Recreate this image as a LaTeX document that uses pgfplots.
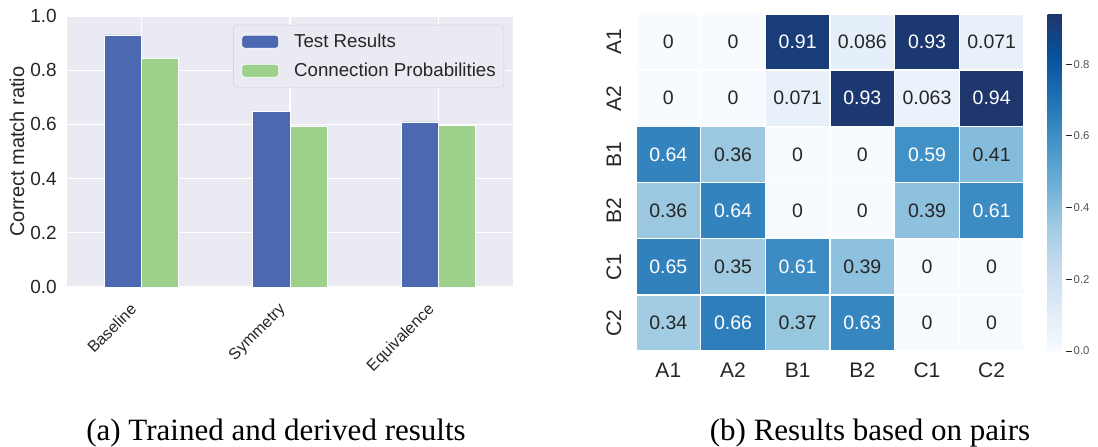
\documentclass[border=0pt]{standalone}
\usepackage{fontspec}
\setmainfont{Liberation Serif}
\setsansfont{Liberation Sans}
\usepackage{pgfplots}
\pgfplotsset{compat=1.18}
\definecolor{bg}{RGB}{234,234,242}
\definecolor{barblue}{RGB}{76,104,176}
\definecolor{bargreen}{RGB}{157,208,138}
\definecolor{txt}{RGB}{38,38,38}
\definecolor{lgray}{RGB}{204,204,210}
\newcommand\fs[1]{\fontsize{#1}{#1}\selectfont}
\begin{document}
\begin{tikzpicture}[x=1pt,y=1pt]
\useasboundingbox (0,0) rectangle (1098,447);
\begin{axis}[
  at={(67pt,160pt)}, anchor=south west,
  scale only axis, width=446pt, height=271pt,
  xmin=-0.5, xmax=2.5, ymin=0, ymax=1,
  ybar, bar width=0.25,
  xtick={0,1,2}, xticklabels={Baseline,Symmetry,Equivalence},
  ytick={0,0.2,0.4,0.6,0.8,1.0}, yticklabels={0.0,0.2,0.4,0.6,0.8,1.0},
  grid=major, grid style={white, line width=1.3pt},
  axis background/.style={fill=bg},
  axis line style={draw=none},
  major tick length=0pt, tick style={draw=none},
  yticklabel style={font=\sffamily\fs{19}, text=txt, inner sep=0pt, anchor=east, xshift=-10pt},
  xticklabel style={font=\sffamily\fs{16}, text=txt, inner sep=0pt, xshift=-12pt, yshift=-15pt, rotate=45, anchor=north east},
  ylabel={Correct match ratio},
  every axis y label/.style={at={(axis description cs:-0.112,0.5)}, rotate=90, anchor=center, font=\sffamily\fs{20}, text=txt},
  legend style={at={(1,1)}, anchor=north east, xshift=-9pt, yshift=-9pt, draw=lgray, fill=bg, rounded corners=3pt, inner xsep=8pt, inner ysep=9pt, font=\sffamily\fs{18.7}, text=txt, row sep=14pt, nodes={inner sep=0pt}},
  legend cell align=left,
]
\addplot[fill=barblue, draw=white, line width=0.8pt, bar shift=-0.125,
  legend image code/.code={\draw[fill=barblue, draw=white, line width=0.8pt] (0pt,-6.5pt) rectangle (37pt,6.5pt); \path (52pt,0pt);}]
  coordinates {(0,0.930) (1,0.647) (2,0.609)};
\addplot[fill=bargreen, draw=white, line width=0.8pt, bar shift=0.125,
  legend image code/.code={\draw[fill=bargreen, draw=white, line width=0.8pt] (0pt,-6.5pt) rectangle (37pt,6.5pt); \path (52pt,0pt);}]
  coordinates {(0,0.844) (1,0.594) (2,0.595)};
\legend{Test Results, Connection Probabilities}
\end{axis}

\begin{axis}[
  at={(636pt,96pt)}, anchor=south west,
  scale only axis, width=388pt, height=337pt,
  xmin=-0.5, xmax=5.5, ymin=-0.5, ymax=5.5,
  axis line style={draw=none}, tick style={draw=none}, major tick length=0pt,
  xtick={0,1,2,3,4,5}, xticklabels={A1,A2,B1,B2,C1,C2},
  ytick={0,1,2,3,4,5}, yticklabels={C2,C1,B2,B1,A2,A1},
  minor xtick={-0.5,0.5,1.5,2.5,3.5,4.5,5.5}, minor ytick={-0.5,0.5,1.5,2.5,3.5,4.5,5.5},
  minor grid style={white, line width=1.5pt}, grid=minor, axis on top,
  xticklabel style={font=\sffamily\fs{21}, text=txt, inner sep=0pt, anchor=base, yshift=-27pt},
  yticklabel style={font=\sffamily\fs{21}, text=txt, inner sep=0pt, xshift=-15pt, rotate=90, anchor=base},
  colormap={blues}{rgb255(0cm)=(247,251,255); rgb255(1cm)=(222,235,247); rgb255(2cm)=(198,219,239); rgb255(3cm)=(158,202,225); rgb255(4cm)=(107,174,214); rgb255(5cm)=(66,146,198); rgb255(6cm)=(33,113,181); rgb255(7cm)=(8,81,156); rgb255(8cm)=(30,54,108)},
  point meta min=0, point meta max=0.94,
  colorbar,
  colorbar style={
    at={(parent axis.north east)}, anchor=north west, xshift=15pt,
    width=18pt,
    ytick={0,0.2,0.4,0.6,0.8}, yticklabels={0.0,0.2,0.4,0.6,0.8},
    yticklabel style={font=\sffamily\fs{11.3}, text=txt!80, inner sep=0pt, anchor=west, xshift=2pt},
    major tick length=6pt, tick align=outside, ytick pos=right,
    tick style={draw=txt, line width=0.8pt},
    axis line style={draw=none},
    grid=none,
  },
]
\addplot[matrix plot*, mesh/cols=6, point meta=explicit, draw=none] table[meta=v]{
x y v
0 0 0.34
1 0 0.66
2 0 0.37
3 0 0.63
4 0 0
5 0 0
0 1 0.65
1 1 0.35
2 1 0.61
3 1 0.39
4 1 0
5 1 0
0 2 0.36
1 2 0.64
2 2 0
3 2 0
4 2 0.39
5 2 0.61
0 3 0.64
1 3 0.36
2 3 0
3 3 0
4 3 0.59
5 3 0.41
0 4 0
1 4 0
2 4 0.071
3 4 0.93
4 4 0.063
5 4 0.94
0 5 0
1 5 0
2 5 0.91
3 5 0.086
4 5 0.93
5 5 0.071
};
\addplot[only marks, mark size=0pt, mark options={draw=none, fill=none}, point meta=explicit symbolic,
  nodes near coords, nodes near coords align=center,
  every node near coord/.append style={font=\sffamily\fs{19.5}, text=txt, inner sep=0pt, anchor=center}] table[meta=t]{
x y t
0 0 0.34
2 0 0.37
4 0 0
5 0 0
1 1 0.35
3 1 0.39
4 1 0
5 1 0
0 2 0.36
2 2 0
3 2 0
4 2 0.39
1 3 0.36
2 3 0
3 3 0
5 3 0.41
0 4 0
1 4 0
2 4 0.071
4 4 0.063
0 5 0
1 5 0
3 5 0.086
5 5 0.071
};
\addplot[only marks, mark size=0pt, mark options={draw=none, fill=none}, point meta=explicit symbolic,
  nodes near coords, nodes near coords align=center,
  every node near coord/.append style={font=\sffamily\fs{19.5}, text=white, inner sep=0pt, anchor=center}] table[meta=t]{
x y t
1 0 0.66
3 0 0.63
0 1 0.65
2 1 0.61
1 2 0.64
5 2 0.61
0 3 0.64
4 3 0.59
3 4 0.93
5 4 0.94
2 5 0.91
4 5 0.93
};
\end{axis}

\node[font=\fs{31}, anchor=base, text=black, inner sep=0pt] at (276,6) {(a) Trained and derived results};
\node[font=\fs{31}, anchor=base, text=black, inner sep=0pt] at (870,6) {(b) Results based on pairs};
\end{tikzpicture}
\end{document}
